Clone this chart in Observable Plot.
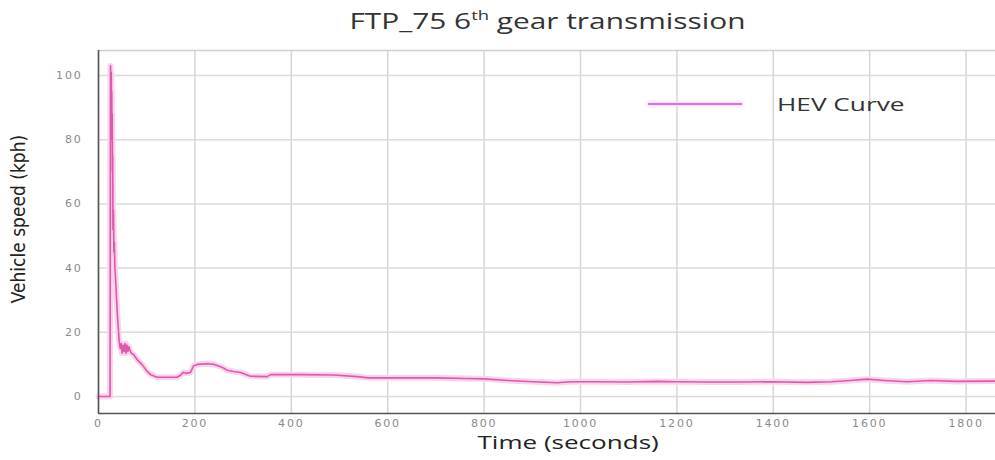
<!DOCTYPE html>
<html>
<head>
<meta charset="utf-8">
<script src="https://cdn.jsdelivr.net/npm/d3@7"></script>
<script src="https://cdn.jsdelivr.net/npm/@observablehq/plot@0.6"></script>
<style>
  html, body { margin: 0; padding: 0; background: #fff; }
  #wrap { position: relative; width: 995px; height: 460px; overflow: hidden; background: #fff; }
  #title { position: absolute; left: 0; top: 7px; width: 995px; text-align: center; font-family: "Open Sans", sans-serif; font-size: 21px; color: #333; padding-left: 100px; box-sizing: border-box; }
  #title span { display: inline-block; transform: scaleX(1.42); white-space: nowrap; }
  #title sup { font-size: 13px; vertical-align: 9px; line-height: 0; }
  #xlabel { position: absolute; left: 98px; top: 429px; width: 897px; text-align: center; font-family: "Open Sans", sans-serif; font-size: 19px; color: #222; margin-left: 22px; }
  #xlabel span { display: inline-block; transform: scaleX(1.37); white-space: nowrap; }
  #ylabel { position: absolute; left: 18px; top: 219px; transform: translate(-50%, -50%) rotate(-90deg); white-space: nowrap; font-family: "Liberation Sans Narrow", "DejaVu Sans Condensed", sans-serif; font-size: 19px; color: #222; }
  #legend { position: absolute; left: 648px; top: 91px; font-family: "Open Sans", sans-serif; font-size: 19px; color: #333; }
  #legend .sw { position: absolute; left: 0; top: 12px; width: 94px; height: 2px; background: #d27ad8; box-shadow: 0 0 3px 1px #f6d2f4; }
  #legend .tx { position: absolute; left: 129px; top: 0; white-space: nowrap; transform: scaleX(1.38); transform-origin: left center; }
  svg g[aria-label="x-axis tick label"] text, svg g[aria-label="y-axis tick label"] text { letter-spacing: 1.8px; }
</style>
</head>
<body>
<div id="wrap">
  <div id="chart"></div>
  <div id="title"><span>FTP_75 6<sup>th</sup> gear transmission</span></div>
  <div id="xlabel"><span>Time (seconds)</span></div>
  <div id="ylabel">Vehicle speed (kph)</div>
  <div id="legend"><div class="sw"></div><div class="tx">HEV Curve</div></div>
</div>
<script>
// ---- data ----
const seriesName = "HEV Curve";
const timeSec = [0, 24, 25, 26, 26.5, 27, 27.5, 28, 28.5, 29, 29.5, 30, 31, 32, 33, 34, 35, 37, 39, 41, 43, 45, 47, 49, 51, 53, 55, 57, 59, 61, 63, 65, 68, 73, 80, 90, 100, 108, 122, 163, 170, 176, 183, 191, 197, 205, 225, 240, 255, 267, 280, 295, 315, 350, 357, 420, 488, 537, 560, 650, 700, 760, 800, 850, 903, 952, 980, 1030, 1100, 1160, 1200, 1260, 1332, 1400, 1470, 1520, 1560, 1595, 1630, 1678, 1726, 1780, 1861];
const speedKph = [0, 0, 103, 96, 101, 90, 95, 80, 88, 70, 75, 52, 58, 45, 48, 40, 38, 32, 26, 21.5, 17, 15, 16.5, 13.5, 16, 14, 16.5, 13.5, 16, 14, 15.5, 14.5, 13.5, 13, 11.5, 10, 8, 6.8, 6, 6, 6.6, 7.5, 7.2, 7.5, 9.5, 10, 10.2, 10, 9.2, 8.2, 7.8, 7.5, 6.3, 6.2, 6.8, 6.8, 6.7, 6.2, 5.8, 5.8, 5.8, 5.6, 5.5, 5.0, 4.6, 4.3, 4.6, 4.6, 4.5, 4.7, 4.6, 4.5, 4.5, 4.6, 4.4, 4.6, 5.0, 5.4, 5.0, 4.6, 5.0, 4.7, 4.8];
const xTicks = [0, 200, 400, 600, 800, 1000, 1200, 1400, 1600, 1800];
const yTicks = [0, 20, 40, 60, 80, 100];
const xDomain = [0, 1861];
const yDomain = [-5.3, 107.8];

const data = timeSec.map((t, i) => ({t, v: speedKph[i]}));

const chart = Plot.plot({
  width: 995,
  height: 460,
  marginLeft: 98,
  marginRight: 0,
  marginTop: 50,
  marginBottom: 47,
  style: {background: "#fff", fontFamily: "DejaVu Sans, sans-serif"},
  x: {domain: xDomain, label: null},
  y: {domain: yDomain, label: null},
  marks: [
    Plot.gridX(xTicks, {stroke: "#d6d6d6", strokeOpacity: 1, strokeWidth: 1.5}),
    Plot.gridY(yTicks, {stroke: "#dcdcdc", strokeOpacity: 1, strokeWidth: 1.5}),
    Plot.ruleY([yDomain[1]], {stroke: "#cfcfcf", strokeWidth: 1.5}),
    Plot.axisX(xTicks, {tickSize: 0, tickPadding: 6, fill: "#8a8a8a", fontSize: 11, label: null, tickFormat: d => String(d)}),
    Plot.axisY(yTicks, {tickSize: 0, tickPadding: 16, fill: "#8a8a8a", fontSize: 11, label: null}),
    Plot.line(data, {x: "t", y: "v", stroke: "#fbd3ef", strokeWidth: 6, strokeLinejoin: "round"}),
    Plot.line(data, {x: "t", y: "v", stroke: "#dc5aa9", strokeWidth: 1.6, strokeLinejoin: "round"}),
    Plot.ruleX([xDomain[0]], {stroke: "#555", strokeWidth: 1.6}),
    Plot.ruleY([yDomain[0]], {stroke: "#555", strokeWidth: 1.6})
  ]
});
document.getElementById("chart").appendChild(chart);
</script>
</body>
</html>
